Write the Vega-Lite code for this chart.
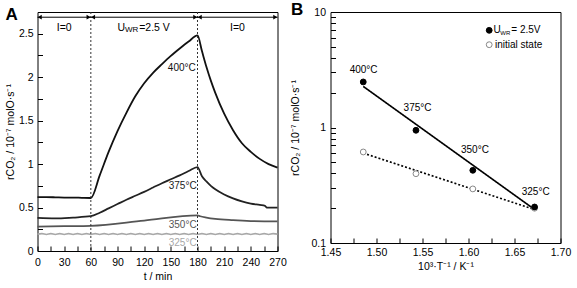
{
  "$schema": "https://vega.github.io/schema/vega-lite/v6.json",
  "padding": {"left": 4.5, "top": 0, "right": 3, "bottom": 0},
  "spacing": 2,
  "config": {
    "font": "Liberation Sans",
    "view": {"stroke": "black", "strokeWidth": 1},
    "axis": {"domain": false, "grid": false, "ticks": true, "tickColor": "black", "tickWidth": 1, "tickOpacity": 1, "tickCount": 100, "labelFontSize": 10.5, "labelColor": "black", "titleFontSize": 10.5, "titleFontWeight": "normal", "titleColor": "black", "labelOverlap": false, "labelFlush": false}
  },
  "datasets": {
    "curves": [
      {"t":0,"r":0.62,"s":"400"},{"t":10,"r":0.62,"s":"400"},{"t":20,"r":0.618,"s":"400"},{"t":30,"r":0.615,"s":"400"},{"t":40,"r":0.615,"s":"400"},{"t":50,"r":0.612,"s":"400"},{"t":60,"r":0.61,"s":"400"},{"t":70,"r":0.87,"s":"400"},{"t":80,"r":1.14,"s":"400"},{"t":90,"r":1.38,"s":"400"},{"t":100,"r":1.59,"s":"400"},{"t":110,"r":1.78,"s":"400"},{"t":120,"r":1.93,"s":"400"},{"t":130,"r":2.05,"s":"400"},{"t":140,"r":2.15,"s":"400"},{"t":150,"r":2.245,"s":"400"},{"t":160,"r":2.33,"s":"400"},{"t":170,"r":2.41,"s":"400"},{"t":180,"r":2.48,"s":"400"},{"t":185,"r":2.3,"s":"400"},{"t":190,"r":2.12,"s":"400"},{"t":195,"r":1.96,"s":"400"},{"t":200,"r":1.82,"s":"400"},{"t":210,"r":1.58,"s":"400"},{"t":220,"r":1.39,"s":"400"},{"t":230,"r":1.24,"s":"400"},{"t":240,"r":1.14,"s":"400"},{"t":250,"r":1.06,"s":"400"},{"t":260,"r":1.0,"s":"400"},{"t":270,"r":0.96,"s":"400"},
      {"t":0,"r":0.38,"s":"375"},{"t":20,"r":0.375,"s":"375"},{"t":40,"r":0.385,"s":"375"},{"t":60,"r":0.4,"s":"375"},{"t":70,"r":0.44,"s":"375"},{"t":80,"r":0.49,"s":"375"},{"t":90,"r":0.54,"s":"375"},{"t":100,"r":0.59,"s":"375"},{"t":110,"r":0.635,"s":"375"},{"t":120,"r":0.68,"s":"375"},{"t":130,"r":0.73,"s":"375"},{"t":140,"r":0.78,"s":"375"},{"t":150,"r":0.825,"s":"375"},{"t":160,"r":0.87,"s":"375"},{"t":170,"r":0.92,"s":"375"},{"t":180,"r":0.965,"s":"375"},{"t":185,"r":0.86,"s":"375"},{"t":190,"r":0.8,"s":"375"},{"t":195,"r":0.75,"s":"375"},{"t":200,"r":0.71,"s":"375"},{"t":210,"r":0.65,"s":"375"},{"t":220,"r":0.605,"s":"375"},{"t":230,"r":0.57,"s":"375"},{"t":240,"r":0.545,"s":"375"},{"t":250,"r":0.53,"s":"375"},{"t":256,"r":0.52,"s":"375"},{"t":258,"r":0.5,"s":"375"},{"t":270,"r":0.5,"s":"375"},
      {"t":0,"r":0.28,"s":"350"},{"t":30,"r":0.285,"s":"350"},{"t":60,"r":0.29,"s":"350"},{"t":120,"r":0.35,"s":"350"},{"t":180,"r":0.41,"s":"350"},{"t":183,"r":0.4,"s":"350"},{"t":190,"r":0.385,"s":"350"},{"t":200,"r":0.37,"s":"350"},{"t":220,"r":0.355,"s":"350"},{"t":240,"r":0.345,"s":"350"},{"t":270,"r":0.34,"s":"350"},
      {"t":0,"r":0.195,"s":"325"},{"t":5,"r":0.2,"s":"325"},{"t":10,"r":0.19,"s":"325"},{"t":15,"r":0.2,"s":"325"},{"t":20,"r":0.19,"s":"325"},{"t":25,"r":0.2,"s":"325"},{"t":30,"r":0.19,"s":"325"},{"t":35,"r":0.2,"s":"325"},{"t":40,"r":0.19,"s":"325"},{"t":45,"r":0.2,"s":"325"},{"t":50,"r":0.19,"s":"325"},{"t":55,"r":0.2,"s":"325"},{"t":60,"r":0.19,"s":"325"},{"t":65,"r":0.2,"s":"325"},{"t":70,"r":0.19,"s":"325"},{"t":75,"r":0.2,"s":"325"},{"t":80,"r":0.19,"s":"325"},{"t":85,"r":0.2,"s":"325"},{"t":90,"r":0.19,"s":"325"},{"t":95,"r":0.2,"s":"325"},{"t":100,"r":0.19,"s":"325"},{"t":105,"r":0.2,"s":"325"},{"t":110,"r":0.19,"s":"325"},{"t":115,"r":0.2,"s":"325"},{"t":120,"r":0.19,"s":"325"},{"t":125,"r":0.2,"s":"325"},{"t":130,"r":0.19,"s":"325"},{"t":135,"r":0.2,"s":"325"},{"t":140,"r":0.19,"s":"325"},{"t":145,"r":0.2,"s":"325"},{"t":150,"r":0.19,"s":"325"},{"t":155,"r":0.2,"s":"325"},{"t":160,"r":0.19,"s":"325"},{"t":165,"r":0.2,"s":"325"},{"t":170,"r":0.19,"s":"325"},{"t":175,"r":0.2,"s":"325"},{"t":180,"r":0.19,"s":"325"},{"t":185,"r":0.2,"s":"325"},{"t":190,"r":0.19,"s":"325"},{"t":195,"r":0.2,"s":"325"},{"t":200,"r":0.19,"s":"325"},{"t":205,"r":0.2,"s":"325"},{"t":210,"r":0.19,"s":"325"},{"t":215,"r":0.2,"s":"325"},{"t":220,"r":0.19,"s":"325"},{"t":225,"r":0.2,"s":"325"},{"t":230,"r":0.19,"s":"325"},{"t":235,"r":0.2,"s":"325"},{"t":240,"r":0.19,"s":"325"},{"t":245,"r":0.2,"s":"325"},{"t":250,"r":0.19,"s":"325"},{"t":255,"r":0.2,"s":"325"},{"t":260,"r":0.19,"s":"325"},{"t":265,"r":0.2,"s":"325"},{"t":270,"r":0.195,"s":"325"}
    ],
    "arrowheads": [
      {"t":2.5,"r":2.69,"d":"L"},{"t":57.5,"r":2.69,"d":"R"},{"t":62.5,"r":2.69,"d":"L"},{"t":177.5,"r":2.69,"d":"R"},{"t":182.5,"r":2.69,"d":"L"},{"t":267.5,"r":2.69,"d":"R"}
    ],
    "labelsA": [
      {"t":178,"r":2.1,"label":"400°C","c":"400"},
      {"t":179,"r":0.745,"label":"375°C","c":"375"},
      {"t":179,"r":0.3,"label":"350°C","c":"350"},
      {"t":179,"r":0.09,"label":"325°C","c":"325"}
    ],
    "fits": [
      {"x":1.4856,"r":2.27,"g":"on"},{"x":1.6718,"r":0.195,"g":"on"},
      {"x":1.4856,"r":0.6,"g":"init"},{"x":1.6718,"r":0.195,"g":"init"}
    ],
    "pointsB": [
      {"x":1.4856,"r":2.48,"g":"on"},{"x":1.5429,"r":0.946,"g":"on"},{"x":1.6047,"r":0.426,"g":"on"},{"x":1.6718,"r":0.205,"g":"on"},
      {"x":1.4856,"r":0.614,"g":"init"},{"x":1.5429,"r":0.398,"g":"init"},{"x":1.6047,"r":0.294,"g":"init"},{"x":1.6718,"r":0.2,"g":"init"}
    ],
    "labelsB": [
      {"x":1.486,"r":3.17,"label":"400°C"},
      {"x":1.5446,"r":1.48,"label":"375°C"},
      {"x":1.607,"r":0.635,"label":"350°C"},
      {"x":1.673,"r":0.275,"label":"325°C"}
    ]
  },
  "hconcat": [
    {
      "width": 240,
      "height": 239,
      "title": {"text": "A", "anchor": "start", "frame": "bounds", "fontSize": 17, "fontWeight": "bold", "offset": -12, "color": "black"},
      "layer": [
        {
          "data": {"name": "curves"},
          "mark": {"type": "line", "interpolate": "monotone"},
          "encoding": {
            "x": {"field": "t", "type": "quantitative", "scale": {"domain": [0, 270], "nice": false}, "axis": {"title": "t / min", "tickCount": 100, "labelOverlap": false, "labelFlush": false, "tickSize": -5, "zindex": 1, "labelPadding": 11, "titlePadding": 4, "values": [0,15,30,45,60,75,90,105,120,135,150,165,180,195,210,225,240,255,270], "labelExpr": "datum.value % 30 === 0 ? datum.value + '' : ''"}},
            "y": {"field": "r", "type": "quantitative", "scale": {"domain": [0, 2.75], "nice": false}, "axis": {"title": "rCO₂ / 10⁻⁷ molO·s⁻¹", "tickCount": 100, "labelOverlap": false, "tickSize": -5, "zindex": 1, "labelPadding": 9.5, "titlePadding": 3, "values": [0,0.25,0.5,0.75,1,1.25,1.5,1.75,2,2.25,2.5], "labelExpr": "round(datum.value*100) % 50 === 0 ? datum.value + '' : ''"}},
            "color": {"field": "s", "type": "nominal", "scale": {"domain": ["400","375","350","325"], "range": ["#111111","#222222","#555555","#a8a8a8"]}, "legend": null},
            "strokeWidth": {"field": "s", "type": "nominal", "scale": {"domain": ["400","375","350","325"], "range": [1.8,1.6,1.3,1.3]}, "legend": null}
          }
        },
        {
          "data": {"values": [{"t":60},{"t":180}]},
          "mark": {"type": "rule", "strokeDash": [2, 2], "color": "#333333", "strokeWidth": 1},
          "encoding": {"x": {"field": "t", "type": "quantitative", "scale": {"domain": [0, 270], "nice": false}}}
        },
        {
          "data": {"values": [{"t":0,"t2":270,"r":2.69}]},
          "mark": {"type": "rule", "color": "black", "strokeWidth": 1},
          "encoding": {"x": {"field": "t", "type": "quantitative", "scale": {"domain": [0, 270], "nice": false}}, "x2": {"field": "t2"}, "y": {"field": "r", "type": "quantitative", "scale": {"domain": [0, 2.75], "nice": false}}}
        },
        {
          "data": {"name": "arrowheads"},
          "mark": {"type": "point", "filled": true, "color": "black", "size": 22, "opacity": 1},
          "encoding": {
            "x": {"field": "t", "type": "quantitative", "scale": {"domain": [0, 270], "nice": false}},
            "y": {"field": "r", "type": "quantitative", "scale": {"domain": [0, 2.75], "nice": false}},
            "shape": {"field": "d", "type": "nominal", "scale": {"domain": ["L","R"], "range": ["triangle-left","triangle-right"]}, "legend": null}
          }
        },
        {
          "data": {"values": [{"t":30,"r":2.57,"label":"I=0"},{"t":225,"r":2.57,"label":"I=0"}]},
          "mark": {"type": "text", "fontSize": 10.5, "color": "black", "align": "center", "baseline": "middle"},
          "encoding": {"x": {"field": "t", "type": "quantitative", "scale": {"domain": [0, 270], "nice": false}}, "y": {"field": "r", "type": "quantitative", "scale": {"domain": [0, 2.75], "nice": false}}, "text": {"field": "label"}}
        },
        {
          "data": {"values": [{"t":90,"r":2.57,"label":"U"},{"t":114.4,"r":2.57,"label":"=2.5 V"}]},
          "mark": {"type": "text", "fontSize": 10.5, "color": "black", "align": "left", "baseline": "middle"},
          "encoding": {"x": {"field": "t", "type": "quantitative", "scale": {"domain": [0, 270], "nice": false}}, "y": {"field": "r", "type": "quantitative", "scale": {"domain": [0, 2.75], "nice": false}}, "text": {"field": "label"}}
        },
        {
          "data": {"values": [{"t":98.3,"r":2.54,"label":"WR"}]},
          "mark": {"type": "text", "fontSize": 8, "color": "black", "align": "left", "baseline": "middle"},
          "encoding": {"x": {"field": "t", "type": "quantitative", "scale": {"domain": [0, 270], "nice": false}}, "y": {"field": "r", "type": "quantitative", "scale": {"domain": [0, 2.75], "nice": false}}, "text": {"field": "label"}}
        },
        {
          "data": {"name": "labelsA"},
          "mark": {"type": "text", "fontSize": 10, "align": "right", "baseline": "middle"},
          "encoding": {
            "x": {"field": "t", "type": "quantitative", "scale": {"domain": [0, 270], "nice": false}},
            "y": {"field": "r", "type": "quantitative", "scale": {"domain": [0, 2.75], "nice": false}},
            "text": {"field": "label"},
            "color": {"field": "c", "type": "nominal", "scale": {"domain": ["400","375","350","325"], "range": ["#111111","#222222","#555555","#a8a8a8"]}, "legend": null}
          }
        }
      ]
    },
    {
      "width": 230,
      "height": 231,
      "title": {"text": "B", "anchor": "start", "frame": "bounds", "fontSize": 17, "fontWeight": "bold", "offset": -12, "color": "black"},
      "layer": [
        {
          "data": {"name": "fits"},
          "mark": {"type": "line", "color": "black"},
          "encoding": {
            "x": {"field": "x", "type": "quantitative", "scale": {"domain": [1.45, 1.7], "nice": false}, "axis": {"title": "10³·T⁻¹ / K⁻¹", "tickCount": 100, "labelOverlap": false, "labelFlush": false, "tickSize": -5, "zindex": 1, "labelPadding": 9, "titlePadding": 4, "values": [1.45,1.475,1.5,1.525,1.55,1.575,1.6,1.625,1.65,1.675,1.7], "labelExpr": "round(datum.value*1000) % 50 === 0 ? format(datum.value, '.2f') : ''"}},
            "y": {"field": "r", "type": "quantitative", "scale": {"type": "log", "domain": [0.1, 10], "nice": false}, "axis": {"title": "rCO₂ / 10⁻⁷ molO·s⁻¹", "tickCount": 100, "labelOverlap": false, "tickSize": -5, "zindex": 1, "labelPadding": 10, "titlePadding": 10, "values": [0.1,0.2,0.3,0.4,0.5,0.6,0.7,0.8,0.9,1,2,3,4,5,6,7,8,9,10], "labelExpr": "datum.value === 0.1 ? '0.1' : datum.value === 1 ? '1' : datum.value === 10 ? '10' : ''"}},
            "strokeDash": {"field": "g", "type": "nominal", "scale": {"domain": ["on","init"], "range": [[1,0],[2,2]]}, "legend": null},
            "strokeWidth": {"field": "g", "type": "nominal", "scale": {"domain": ["on","init"], "range": [1.3,1.2]}, "legend": null}
          }
        },
        {
          "data": {"name": "pointsB"},
          "mark": {"type": "point", "opacity": 1, "size": 34, "strokeWidth": 1},
          "encoding": {
            "x": {"field": "x", "type": "quantitative", "scale": {"domain": [1.45, 1.7], "nice": false}},
            "y": {"field": "r", "type": "quantitative", "scale": {"type": "log", "domain": [0.1, 10], "nice": false}},
            "fill": {"field": "g", "type": "nominal", "scale": {"domain": ["on","init"], "range": ["black","white"]}, "legend": null},
            "stroke": {"field": "g", "type": "nominal", "scale": {"domain": ["on","init"], "range": ["black","#888888"]}, "legend": null},
            "order": {"field": "g", "type": "nominal", "sort": "ascending"}
          }
        },
        {
          "data": {"name": "labelsB"},
          "mark": {"type": "text", "fontSize": 10, "color": "black", "align": "center", "baseline": "middle"},
          "encoding": {"x": {"field": "x", "type": "quantitative", "scale": {"domain": [1.45, 1.7], "nice": false}}, "y": {"field": "r", "type": "quantitative", "scale": {"type": "log", "domain": [0.1, 10], "nice": false}}, "text": {"field": "label"}}
        },
        {
          "data": {"values": [{"x":1.6225,"r":6.94,"g":"on"},{"x":1.6225,"r":5.21,"g":"init"}]},
          "mark": {"type": "point", "opacity": 1, "size": 34, "strokeWidth": 1},
          "encoding": {
            "x": {"field": "x", "type": "quantitative", "scale": {"domain": [1.45, 1.7], "nice": false}},
            "y": {"field": "r", "type": "quantitative", "scale": {"type": "log", "domain": [0.1, 10], "nice": false}},
            "fill": {"field": "g", "type": "nominal", "scale": {"domain": ["on","init"], "range": ["black","white"]}, "legend": null},
            "stroke": {"field": "g", "type": "nominal", "scale": {"domain": ["on","init"], "range": ["black","#888888"]}, "legend": null}
          }
        },
        {
          "data": {"values": [{"x":1.6272,"r":6.94,"label":"U"},{"x":1.6465,"r":6.94,"label":"= 2.5V"},{"x":1.6288,"r":5.21,"label":"initial state"}]},
          "mark": {"type": "text", "fontSize": 10, "color": "black", "align": "left", "baseline": "middle"},
          "encoding": {"x": {"field": "x", "type": "quantitative", "scale": {"domain": [1.45, 1.7], "nice": false}}, "y": {"field": "r", "type": "quantitative", "scale": {"type": "log", "domain": [0.1, 10], "nice": false}}, "text": {"field": "label"}}
        },
        {
          "data": {"values": [{"x":1.6345,"r":6.6,"label":"WR"}]},
          "mark": {"type": "text", "fontSize": 6, "color": "black", "align": "left", "baseline": "middle"},
          "encoding": {"x": {"field": "x", "type": "quantitative", "scale": {"domain": [1.45, 1.7], "nice": false}}, "y": {"field": "r", "type": "quantitative", "scale": {"type": "log", "domain": [0.1, 10], "nice": false}}, "text": {"field": "label"}}
        }
      ]
    }
  ]
}
